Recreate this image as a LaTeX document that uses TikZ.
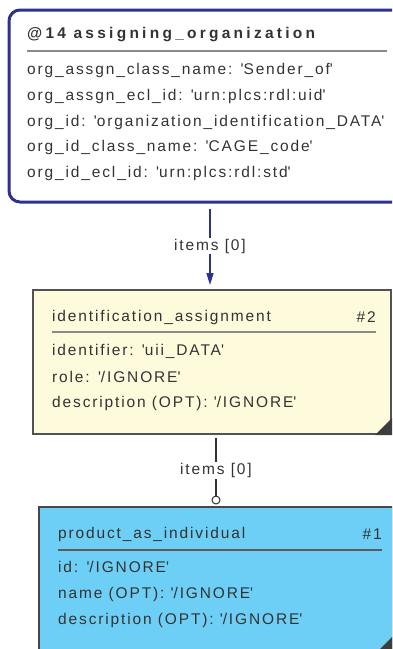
\documentclass[tikz,border=0pt]{standalone}
\usepackage{fontspec}
\setmainfont{Liberation Sans}[LetterSpace=12]
\newfontfamily\titlefont{Liberation Sans}[LetterSpace=21]
\usetikzlibrary{arrows.meta}
\definecolor{navy}{HTML}{2E3192}
\definecolor{cream}{HTML}{FEFADC}
\definecolor{skyblue}{HTML}{6DCFF6}
\definecolor{ink}{HTML}{333333}
\definecolor{rule}{HTML}{8A8A8A}
\newcommand{\qt}{\textquotesingle}
\tikzset{
  box/.style={draw,rectangle,inner sep=0pt,line width=2pt},
  attr/.style={anchor=west,inner sep=0pt,text=ink,font=\fontsize{15.5}{17}\selectfont},
  sep/.style={draw=rule,line width=1.5pt},
  lbl/.style={fill=white,inner sep=1pt,text=ink,font=\fontsize{15.5}{17}\selectfont},
  corner/.style={fill=ink!95}
}
\begin{document}
\begin{tikzpicture}[x=1pt,y=1pt]
  \useasboundingbox (0,0) rectangle (392,-649);
  \clip (0,0) rectangle (392,-649);
  % boxes
  \node (org) [box,draw=navy,line width=3pt,rounded corners=11pt,minimum width=402pt,minimum height=192pt] at (210,-106) {};
  \node (ia) [box,draw=ink!85,fill=cream,minimum width=358pt,minimum height=144pt] at (212,-362) {};
  \node (pai) [box,draw=ink!90,fill=skyblue,minimum width=354pt,minimum height=144pt] at (216,-579) {};
  \fill[corner] (ia.south east) -- ++(-17,0) -- ++(17,17) -- cycle;
  \fill[corner] (pai.south east) -- ++(-17,0) -- ++(17,17) -- cycle;
  % top box text
  \node (orgt) [attr,font=\fontsize{15.5}{17}\bfseries\titlefont] at (27,-35) {@14 assigning\_organization};
  \draw[sep] (27,-51) -- (387,-51);
  \node (o1) [attr] at (27,-70) {org\_assgn\_class\_name: \qt Sender\_of\qt};
  \node (o2) [attr] at (27,-96) {org\_assgn\_ecl\_id: \qt urn:plcs:rdl:uid\qt};
  \node (o3) [attr] at (27,-122) {org\_id: \qt organization\_identification\_DATA\qt};
  \node (o4) [attr] at (27,-147) {org\_id\_class\_name: \qt CAGE\_code\qt};
  \node (o5) [attr] at (27,-173) {org\_id\_ecl\_id: \qt urn:plcs:rdl:std\qt};
  % identification_assignment
  \node (iat) [attr] at (52,-317) {identification\_assignment};
  \node (ian) [attr,anchor=east] at (376,-317) {\#2};
  \draw[sep] (52,-332) -- (376,-332);
  \node (i1) [attr] at (52,-351) {identifier: \qt uii\_DATA\qt};
  \node (i2) [attr] at (52,-377) {role: \qt /IGNORE\qt};
  \node (i3) [attr] at (52,-403) {description (OPT): \qt /IGNORE\qt};
  % product_as_individual
  \node (pait) [attr] at (58,-534) {product\_as\_individual};
  \node (pain) [attr,anchor=east] at (382,-534) {\#1};
  \draw[sep,draw=ink!80] (58,-550) -- (382,-550);
  \node (p1) [attr] at (58,-567) {id: \qt /IGNORE\qt};
  \node (p2) [attr] at (58,-594) {name (OPT): \qt /IGNORE\qt};
  \node (p3) [attr] at (58,-620) {description (OPT): \qt /IGNORE\qt};
  % connectors
  \draw[navy,line width=1.5pt,-{Triangle[width=7pt,length=12pt]},shorten <=5pt,shorten >=4pt]
    (org.south) -- node[lbl] {items [0]} (org.south |- ia.north);
  \draw[ink,line width=1.5pt,shorten <=3pt,shorten >=6pt]
    (ia.south -| pai.north) -- node[lbl] {items [0]} (pai.north);
  \node (ring) [circle,draw=ink,fill=white,line width=1pt,minimum size=8pt,inner sep=0pt] at ([yshift=6pt]pai.north) {};
\end{tikzpicture}
\end{document}
